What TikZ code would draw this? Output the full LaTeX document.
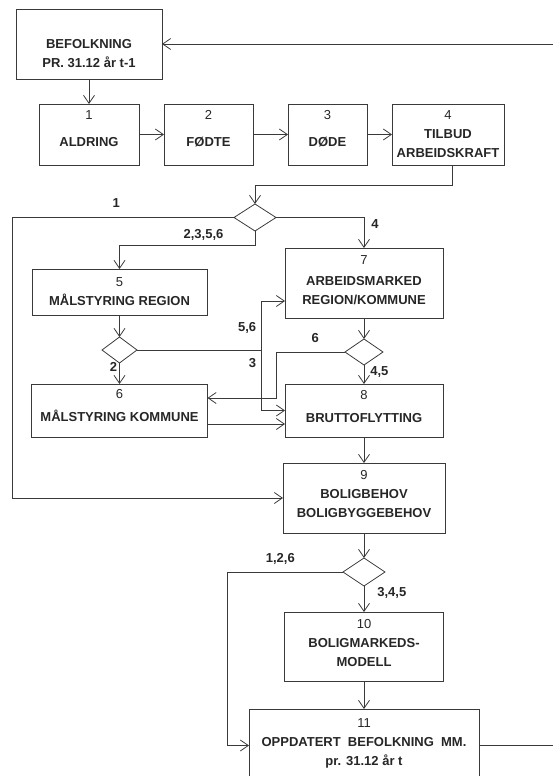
\documentclass[tikz,border=0pt]{standalone}
\usepackage{fontspec}
\setmainfont{Liberation Sans}
\usepackage{tikz}
\usetikzlibrary{shapes.geometric, arrows.meta, positioning}
\usepackage{xcolor}
\definecolor{linegray}{HTML}{3A3A3A}
\newcommand{\boxnum}[1]{{\mdseries #1}}

\begin{document}
\begin{tikzpicture}[
    x=1pt, y=-1pt,
    every node/.style={font=\fontsize{13}{19}\selectfont\bfseries, text=black!85},
    block/.style={draw=linegray, line width=0.8pt, rectangle, align=center, inner sep=2pt, outer sep=0pt},
    gate/.style={draw=linegray, line width=0.8pt, diamond, minimum width=42pt, minimum height=27pt, inner sep=0pt, outer sep=0pt},
    lift/.style={execute at end node={\rule[-#1]{0pt}{#1}}},
    tag/.style={inner sep=2pt},
    arrow/.style={-{Straight Barb[length=8pt, width=11pt]}, draw=linegray, line width=0.8pt}
]
    \useasboundingbox (0,0) rectangle (553,776);
    \clip (0,0) rectangle (553,776);

    % Start population and the demographic steps
    \node[block, minimum width=146pt, minimum height=70pt] (bef) at (89,44) {\rule{0pt}{28pt}BEFOLKNING\\PR. 31.12 år t-1};
    \node[block, minimum width=100pt, minimum height=61pt, lift=12pt, below=25pt of bef] (aldring) {\boxnum{1}\\[8pt]ALDRING};
    \node[block, minimum width=89pt, minimum height=61pt, lift=12pt, right=25pt of aldring] (fodte) {\boxnum{2}\\[8pt]FØDTE};
    \node[block, minimum width=79pt, minimum height=61pt, lift=12pt, right=35pt of fodte] (dode) {\boxnum{3}\\[8pt]DØDE};
    \node[block, minimum width=112pt, minimum height=61pt, right=25pt of dode] (tilbud) {\boxnum{4}\\TILBUD\\ARBEIDSKRAFT};

    % First choice
    \node[gate] (g1) at (255,217.5) {};

    % Left column
    \node[block, minimum width=175pt, minimum height=46pt] (mregion) at (119.5,292) {\boxnum{5}\\MÅLSTYRING REGION};
    \node[gate, minimum width=35pt, minimum height=26pt, below=22pt of mregion] (g2) {};
    \node[block, minimum width=176pt, minimum height=53pt, lift=10pt, below=21pt of g2] (mkommune) {\boxnum{6}\\[4pt]MÅLSTYRING KOMMUNE};

    % Right column
    \node[block, minimum width=158pt, minimum height=70pt, lift=5pt] (arbmarked) at (364,283) {\boxnum{7}\\[2pt]ARBEIDSMARKED\\REGION/KOMMUNE};
    \node[gate, minimum width=38pt, minimum height=26pt, below=21pt of arbmarked] (g3) {};
    \node[block, minimum width=158pt, minimum height=53pt, lift=8pt, below=19pt of g3] (brutto) {\boxnum{8}\\[4pt]BRUTTOFLYTTING};
    \node[block, minimum width=162pt, minimum height=70pt, lift=8pt, below=26pt of brutto] (boligbehov) {\boxnum{9}\\BOLIGBEHOV\\BOLIGBYGGEBEHOV};
    \node[gate, minimum height=28pt, below=25pt of boligbehov] (g4) {};
    \node[block, minimum width=159pt, minimum height=69pt, lift=8pt, below=26pt of g4] (boligmarked) {\boxnum{10}\\BOLIGMARKEDS-\\MODELL};
    \node[block, minimum width=230pt, minimum height=73pt, lift=6pt, below=28pt of boligmarked] (oppdatert) {\boxnum{11}\\OPPDATERT\ \ BEFOLKNING\ \ MM.\\pr. 31.12 år t};

    \coordinate[right=124.5pt of g2.east] (split);
    \coordinate (loop) at (575,44);

    % Arrows
    \draw[arrow] (bef.south) -- (aldring.north);
    \draw[arrow] (aldring) -- (fodte);
    \draw[arrow] (fodte) -- (dode);
    \draw[arrow] (dode) -- (tilbud);
    \draw[arrow] ([xshift=4pt]tilbud.south) -- ++(0,20) -| (g1.north);
    \draw[arrow] (g1.west) -- node[tag, pos=0.53, above=8pt] {1} ++(-222,0) |- (boligbehov.west);
    \draw[arrow] (g1.east) -| node[tag, pos=0.61, right=5pt] {4} (arbmarked.north);
    \draw[arrow] (g1.south) -- ++(0,14.5) -| node[tag, pos=0.19, above=3pt] {2,3,5,6} (mregion.north);
    \draw[arrow] (mregion) -- (g2);
    \draw[arrow] (g2) -- node[tag, pos=0.2, left] {2} (mkommune);
    \draw[arrow] (g2.east) -- (split) |- node[tag, pos=0.22, left=3pt] {5,6} ([yshift=-18pt]arbmarked.west);
    \draw[arrow] (split) |- node[tag, pos=0.11, left=3pt] {3} (brutto.west);
    \draw[arrow] ([yshift=-13.5pt]mkommune.east) -- ([yshift=-13.5pt]brutto.west);
    \draw[arrow] (arbmarked) -- (g3);
    \draw[arrow] (g3.west) -- node[tag, pos=0.43, above=7pt] {6} ++(-69,0) |- ([yshift=12.5pt]mkommune.east);
    \draw[arrow] (g3) -- node[tag, pos=0.37, right=4pt] {4,5} (brutto);
    \draw[arrow] (brutto) -- (boligbehov);
    \draw[arrow] (boligbehov) -- (g4);
    \draw[arrow] (g4.west) -- node[tag, pos=0.54, above=5pt] {1,2,6} ++(-116,0) |- (oppdatert.west);
    \draw[arrow] (g4) -- node[tag, pos=0.27, right=11pt] {3,4,5} (boligmarked);
    \draw[arrow] (boligmarked) -- (oppdatert);
    \draw[arrow] (oppdatert.east) -| (loop) -- (bef.east);
\end{tikzpicture}
\end{document}
